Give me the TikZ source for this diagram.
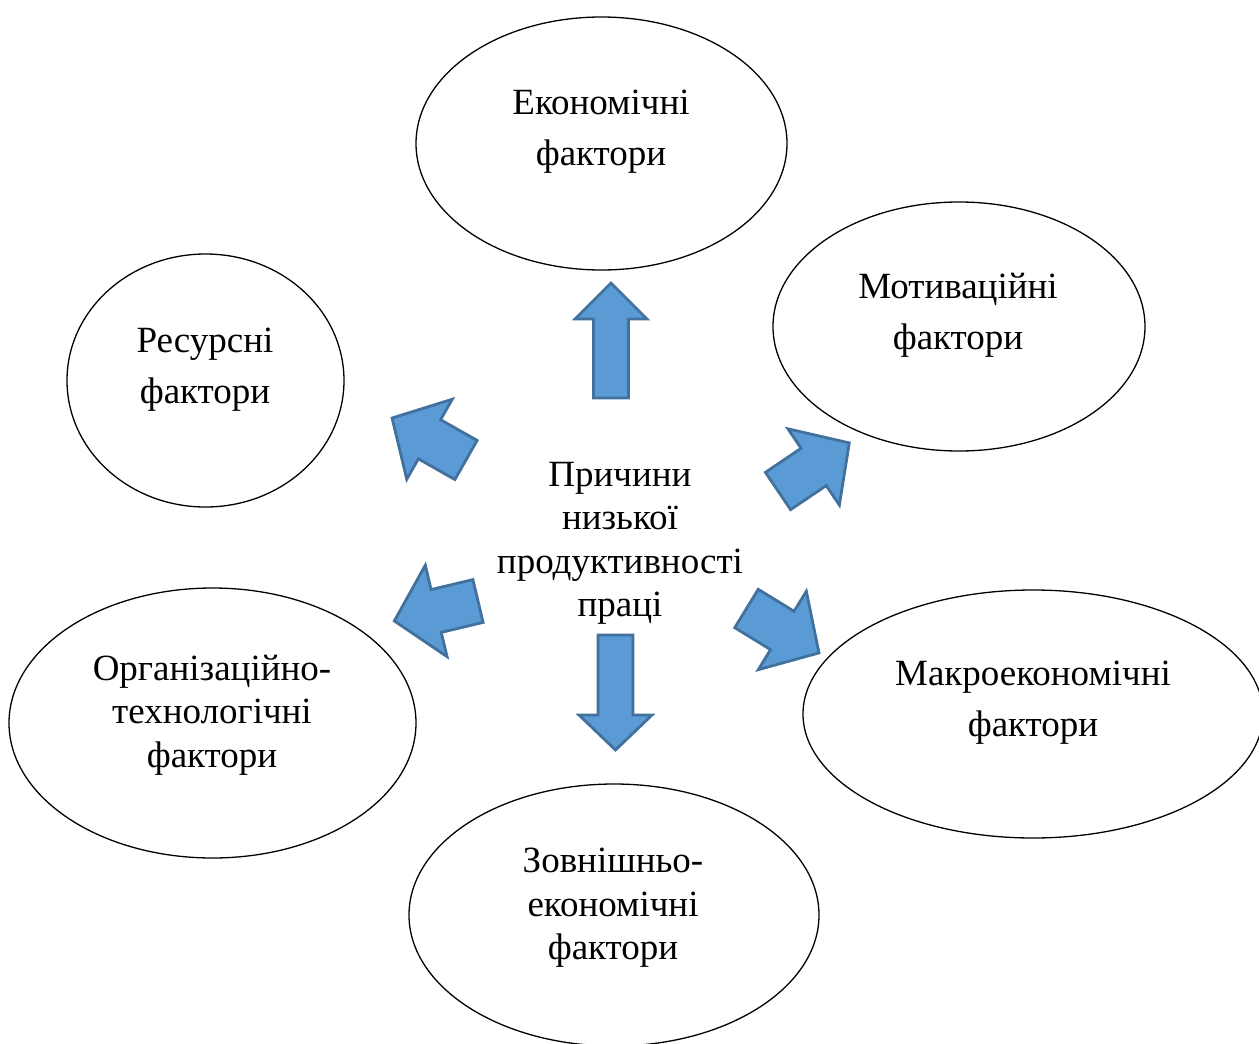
\documentclass[tikz,border=0pt]{standalone}
\usepackage{fontspec}
\setmainfont{Liberation Serif}
\usetikzlibrary{shapes.geometric}
\definecolor{arrfill}{HTML}{5B9BD5}
\definecolor{arrline}{HTML}{41719C}
\tikzset{
  oval/.style={ellipse, draw=black, line width=1.3pt, inner sep=0pt},
  lbl/.style={align=center, font=\fontsize{37}{43.5}\selectfont, inner sep=0pt},
  lbltwo/.style={align=center, font=\fontsize{37}{51}\selectfont, inner sep=0pt},
  blockarrow/.style={fill=arrfill, draw=arrline, line width=2.8pt, line join=miter},
}
% #1,#2 tail centre; #3 angle; #4 length; #5 half shaft; #6 half head; #7 head length
\newcommand\blockarr[7]{%
  \draw[blockarrow, shift={(#1,#2)}, rotate=#3]
    (0,-#5) -- ({#4-#7},-#5) -- ({#4-#7},-#6) -- (#4,0) -- ({#4-#7},#6) -- ({#4-#7},#5) -- (0,#5) -- cycle;}
\begin{document}
\begin{tikzpicture}[x=1pt,y=-1pt]
\useasboundingbox (0,0) rectangle (1259,1044);
% ellipses
\node[oval, minimum width=371pt, minimum height=253pt] (eco) at (601.5,143.5) {};
\node[oval, minimum width=372pt, minimum height=249pt] (mot) at (959,326.5) {};
\node[oval, minimum width=277pt, minimum height=253pt] (res) at (205.5,380.5) {};
\node[oval, minimum width=407pt, minimum height=270pt] (org) at (212.5,723) {};
\node[oval, minimum width=460pt, minimum height=248pt] (mac) at (1033,714) {};
\node[oval, minimum width=410pt, minimum height=262pt] (zov) at (614,915) {};
% labels
\node[lbltwo] (ecot) at (601,132) {Економічні\\фактори};
\node[lbltwo] (mott) at (958,315.5) {Мотиваційні\\фактори};
\node[lbltwo] (rest) at (205,369.5) {Ресурсні\\фактори};
\node[lbl] (orgt) at (212,715) {Організаційно-\\технологічні\\фактори};
\node[lbltwo] (mact) at (1033,702.5) {Макроекономічні\\фактори};
\node[lbl] (zovt) at (613,908) {Зовнішньо-\\економічні\\фактори};
\node[lbl] (cen) at (620,543.5) {Причини\\низької\\продуктивності\\праці};
% block arrows
\blockarr{611}{398}{90}{115}{17.5}{36}{36}
\blockarr{615.5}{635}{-90}{115}{17.5}{36.5}{35}
\blockarr{466}{460}{150.4}{85}{22.5}{46}{43}
\blockarr{478}{601}{193.4}{86}{22}{47}{43}
\blockarr{746.5}{608.5}{-31.5}{85}{22.5}{46}{43}
\blockarr{778}{491}{34}{86}{22.5}{46}{43}
\end{tikzpicture}
\end{document}
